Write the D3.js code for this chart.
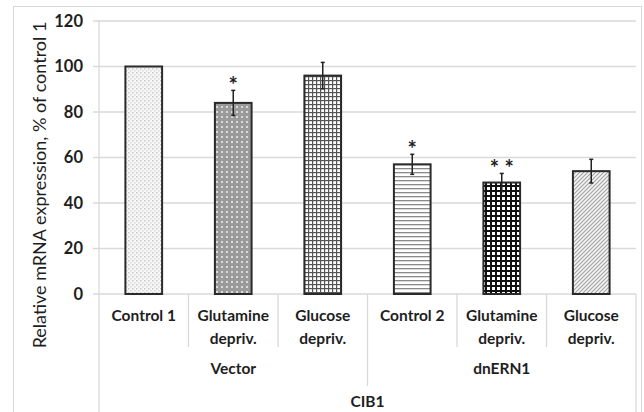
<!DOCTYPE html>
<html>
<head>
<meta charset="utf-8">
<script src="https://cdn.jsdelivr.net/npm/d3@7"></script>
<style>
  html, body { margin: 0; padding: 0; background: #fff; }
  svg { display: block; }
  text { font-family: Lato, "Open Sans", sans-serif; fill: #1e1e1e; }
</style>
</head>
<body>
<svg id="chart" width="644" height="412"></svg>
<script>
// CIB1 relative mRNA expression, % of control 1
const categories = ["Control 1", "Glutamine depriv.", "Glucose depriv.", "Control 2", "Glutamine depriv.", "Glucose depriv."];
const categoryLines = [["Control 1"], ["Glutamine", "depriv."], ["Glucose", "depriv."], ["Control 2"], ["Glutamine", "depriv."], ["Glucose", "depriv."]];
const groups = ["Vector", "dnERN1"];
const groupSize = 3;
const geneLabel = "CIB1";
const values = [100, 84, 96, 57, 49, 54];
const errors = [0, 5.5, 5.8, 4.4, 4, 5.2];
const significance = ["", "*", "", "*", "* *", ""];
const yTicks = [0, 20, 40, 60, 80, 100, 120];
const yTitle = "Relative mRNA expression, % of control 1";
const patternIds = ["pDots", "pGreyDots", "pGrid", "pHoriz", "pCheck", "pDiag"];

const svg = d3.select("#chart");
const plot = { left: 99, right: 636, top: 21, bottom: 294 };

// Outer chart frame
svg.append("rect")
  .attr("x", 13.5).attr("y", 6.5).attr("width", 628).attr("height", 420)
  .attr("fill", "#fff").attr("stroke", "#d9d9d9").attr("stroke-width", 1);

// Fill patterns for the bars
const defs = svg.append("defs");
function pattern(id, size, build) {
  const p = defs.append("pattern").attr("id", id)
    .attr("patternUnits", "userSpaceOnUse").attr("width", size).attr("height", size);
  build(p);
}
pattern("pDots", 4, p => {
  p.append("rect").attr("width", 4).attr("height", 4).attr("fill", "#f7f7f7");
  p.append("rect").attr("x", 0).attr("y", 0).attr("width", 1.5).attr("height", 1.5).attr("fill", "#c8c8c8");
  p.append("rect").attr("x", 2).attr("y", 2).attr("width", 1.5).attr("height", 1.5).attr("fill", "#d8d8d8");
});
pattern("pGreyDots", 5, p => {
  p.append("rect").attr("width", 5).attr("height", 5).attr("fill", "#9a9a9a");
  p.append("rect").attr("x", 1).attr("y", 1).attr("width", 2).attr("height", 2).attr("fill", "#dadada");
});
pattern("pGrid", 4, p => {
  p.append("rect").attr("width", 4).attr("height", 4).attr("fill", "#fff");
  p.append("rect").attr("x", 0).attr("y", 0).attr("width", 4).attr("height", 1.2).attr("fill", "#555");
  p.append("rect").attr("x", 0).attr("y", 0).attr("width", 1.2).attr("height", 4).attr("fill", "#555");
});
pattern("pHoriz", 4, p => {
  p.append("rect").attr("width", 4).attr("height", 4).attr("fill", "#fff");
  p.append("rect").attr("x", 0).attr("y", 0).attr("width", 4).attr("height", 1.3).attr("fill", "#8a8a8a");
});
pattern("pCheck", 5, p => {
  p.append("rect").attr("width", 5).attr("height", 5).attr("fill", "#fff");
  p.append("rect").attr("x", 0).attr("y", 0).attr("width", 5).attr("height", 2).attr("fill", "#111");
  p.append("rect").attr("x", 0).attr("y", 0).attr("width", 2).attr("height", 5).attr("fill", "#111");
});
pattern("pDiag", 4, p => {
  p.append("rect").attr("width", 4).attr("height", 4).attr("fill", "#f4f4f4");
  p.append("path").attr("d", "M-1,1 L1,-1 M0,4 L4,0 M3,5 L5,3")
    .attr("stroke", "#a6a6a6").attr("stroke-width", 1.2);
});

// Scales
const x = d3.scaleBand().domain(d3.range(categories.length)).range([plot.left, plot.right]);
const y = d3.scaleLinear().domain([0, 120]).range([plot.bottom, plot.top]);
const barW = x.bandwidth() * 0.41;

// Horizontal gridlines with outside tick stubs
svg.append("g").selectAll("line").data(yTicks).join("line")
  .attr("x1", plot.left - 6).attr("x2", plot.right)
  .attr("y1", d => y(d)).attr("y2", d => y(d))
  .attr("stroke", "#d9d9d9").attr("stroke-width", 1.3);

// Value axis line and right edge of the category table
svg.append("line")
  .attr("x1", plot.left).attr("x2", plot.left)
  .attr("y1", plot.top).attr("y2", 412)
  .attr("stroke", "#d9d9d9").attr("stroke-width", 1.3);
svg.append("line")
  .attr("x1", plot.right).attr("x2", plot.right)
  .attr("y1", plot.bottom).attr("y2", 412)
  .attr("stroke", "#d9d9d9").attr("stroke-width", 1.3);

// Y tick labels
svg.append("g").selectAll("text").data(yTicks).join("text")
  .attr("x", 83).attr("y", d => y(d)).attr("dy", "0.36em")
  .attr("text-anchor", "end")
  .attr("font-size", 16.5).attr("font-weight", 700)
  .text(d => d);

// Y axis title
svg.append("text")
  .attr("transform", `translate(40,${(20 + 350) / 2}) rotate(-90)`)
  .attr("text-anchor", "middle").attr("dy", "0.35em")
  .attr("font-size", 18)
  .text(yTitle);

// Bars
const idx = d3.range(values.length);
svg.append("g").selectAll("rect").data(idx).join("rect")
  .attr("x", i => x(i) + (x.bandwidth() - barW) / 2)
  .attr("y", i => y(values[i]))
  .attr("width", barW)
  .attr("height", i => y(0) - y(values[i]))
  .attr("fill", i => `url(#${patternIds[i]})`)
  .attr("stroke", "#2a2a2a").attr("stroke-width", 2);

// Error bars
const eb = svg.append("g").attr("stroke", "#222").attr("stroke-width", 1.5);
idx.filter(i => errors[i] > 0).forEach(i => {
  const cx = x(i) + x.bandwidth() / 2;
  const hi = y(values[i] + errors[i]), lo = y(values[i] - errors[i]);
  eb.append("line").attr("x1", cx).attr("x2", cx).attr("y1", hi).attr("y2", lo);
  eb.append("line").attr("x1", cx - 2).attr("x2", cx + 2).attr("y1", hi).attr("y2", hi);
  eb.append("line").attr("x1", cx - 2).attr("x2", cx + 2).attr("y1", lo).attr("y2", lo);
});

// Significance marks
svg.append("g").selectAll("text").data(idx.filter(i => significance[i])).join("text")
  .attr("x", i => x(i) + x.bandwidth() / 2)
  .attr("y", i => y(values[i] + errors[i]) + 3)
  .attr("text-anchor", "middle")
  .attr("font-size", 22).attr("font-weight", 700)
  .text(i => significance[i]);

// Category labels (first level)
const lineY = [316, 339];
idx.forEach(i => {
  const t = svg.append("text")
    .attr("x", x(i) + x.bandwidth() / 2)
    .attr("text-anchor", "middle")
    .attr("font-size", 15.5).attr("font-weight", 700);
  categoryLines[i].forEach((s, k) => {
    t.append("tspan").attr("x", x(i) + x.bandwidth() / 2).attr("y", lineY[k]).attr("dy", "0.35em").text(s);
  });
});

// Separators between categories
const sep = svg.append("g").attr("stroke", "#d9d9d9").attr("stroke-width", 1.3);
d3.range(1, categories.length).forEach(i => {
  const bx = x(i);
  const isGroupEdge = i % groupSize === 0;
  sep.append("line").attr("x1", bx).attr("x2", bx)
    .attr("y1", plot.bottom).attr("y2", isGroupEdge ? 386 : 347);
});

// Group labels (second level)
groups.forEach((g, gi) => {
  const x0 = x(gi * groupSize), x1 = x(gi * groupSize + groupSize - 1) + x.bandwidth();
  svg.append("text")
    .attr("x", (x0 + x1) / 2).attr("y", 369).attr("dy", "0.35em")
    .attr("text-anchor", "middle")
    .attr("font-size", 15.5).attr("font-weight", 700)
    .text(g);
});

// Gene label (third level)
svg.append("text")
  .attr("x", (plot.left + plot.right) / 2).attr("y", 402).attr("dy", "0.35em")
  .attr("text-anchor", "middle")
  .attr("font-size", 15.5).attr("font-weight", 700)
  .text(geneLabel);
</script>
</body>
</html>
